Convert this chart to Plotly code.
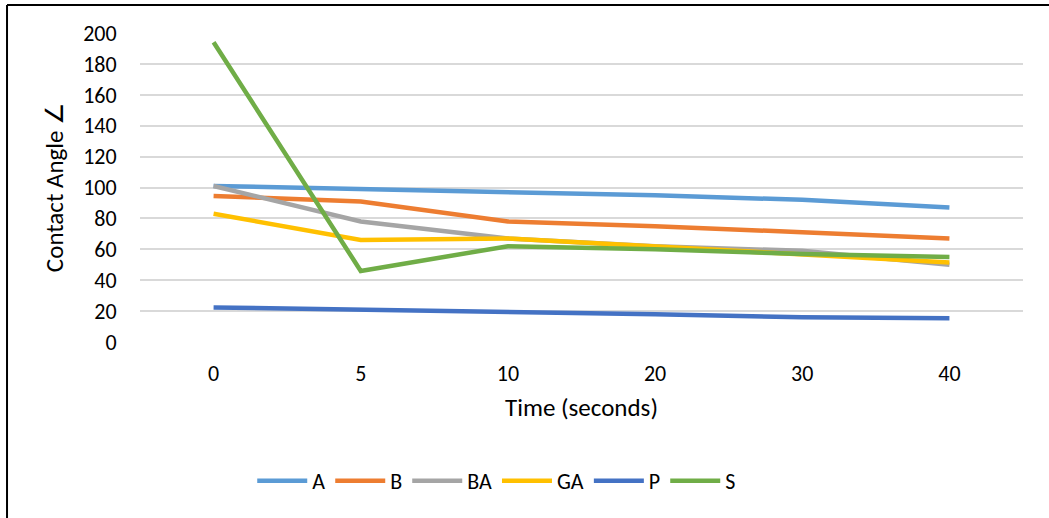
import plotly.graph_objects as go

# Contact angle measurements over time for each sample
times = ["0", "5", "10", "20", "30", "40"]
a_vals = [101, 99, 97, 95, 92, 87]
b_vals = [94.5, 91, 78, 75, 71, 67]
ba_vals = [101, 78, 67, 62, 59, 50]
ga_vals = [83, 66, 67, 62, 57, 51.5]
p_vals = [22.4, 21, 20, 18, 16, 15.3]
s_vals = [194, 46, 62, 60, 57, 55]

series = [
    ("A", a_vals, "#5B9BD5"),
    ("B", b_vals, "#ED7D31"),
    ("BA", ba_vals, "#A5A5A5"),
    ("GA", ga_vals, "#FFC000"),
    ("P", p_vals, "#4472C4"),
    ("S", s_vals, "#70AD47"),
]

FONT = "Carlito, Calibri, Lato, sans-serif"
FS = 22
TITLE_FS = 25

fig = go.Figure()
for name, vals, color in series:
    fig.add_trace(go.Scatter(
        x=times, y=vals, name=name, mode="lines",
        line=dict(color=color, width=4.5),
    ))

fig.update_layout(
    width=1049, height=518,
    margin=dict(l=140, r=26, t=33, b=176),
    paper_bgcolor="white", plot_bgcolor="white",
    font=dict(family=FONT, size=FS, color="#000000"),
    showlegend=True,
    legend=dict(
        orientation="h", x=0.404, xanchor="center",
        y=-0.45, yanchor="middle",
        font=dict(size=FS), itemwidth=50,
    ),
    xaxis=dict(
        type="category", range=[-0.5, len(times) - 0.5],
        title=dict(text="Time (seconds)", font=dict(size=TITLE_FS), standoff=12),
        showgrid=False, showline=False, zeroline=False,
        ticks="outside", ticklen=12, tickcolor="rgba(0,0,0,0)",
    ),
    yaxis=dict(
        range=[0, 200], dtick=20,
        title=dict(text="Contact Angle ∠", font=dict(size=TITLE_FS), standoff=12),
        showgrid=True, gridcolor="#D9D9D9", gridwidth=1.5,
        zeroline=False, showline=False,
        ticks="outside", ticklen=18, tickcolor="rgba(0,0,0,0)",
    ),
    shapes=[
        # chart frame: left and top edges
        dict(type="line", xref="paper", yref="paper",
             x0=-0.1506, x1=-0.1506, y0=-1.0, y1=1.0906,
             line=dict(color="black", width=2)),
        dict(type="line", xref="paper", yref="paper",
             x0=-0.1506, x1=1.2, y0=1.0906, y1=1.0906,
             line=dict(color="black", width=2)),
    ],
)

fig.write_html("out.html")
